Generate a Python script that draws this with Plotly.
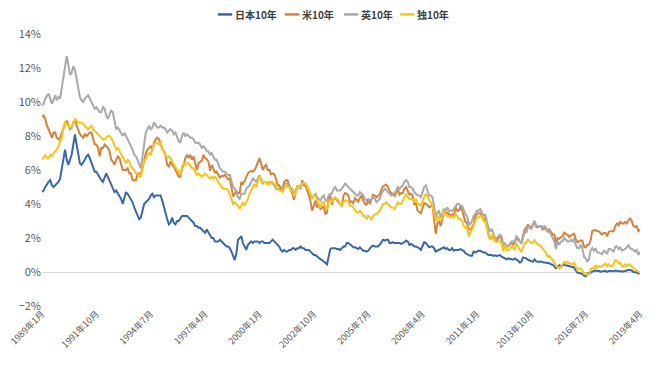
import plotly.graph_objects as go

years = list(range(1989, 2020))
months = [f"{y}年{m}月" for y in years for m in range(1, 13)][:364]
tick_labels = ["1989年1月", "1991年10月", "1994年7月", "1997年4月", "2000年1月", "2002年10月",
               "2005年7月", "2008年4月", "2011年1月", "2013年10月", "2016年7月", "2019年4月"]

jp = [
    4.7, 4.8, 5.0, 5.2, 5.3, 5.4, 5.1, 5.0, 5.1, 5.2, 5.3, 5.5,
    6.0, 6.6, 7.2, 6.6, 6.3, 6.6, 6.9, 7.5, 8.1, 7.5, 7.0, 6.4,
    6.3, 6.5, 6.6, 6.8, 6.9, 6.7, 6.4, 6.2, 5.9, 5.9, 5.7, 5.6,
    5.4, 5.3, 5.5, 5.8, 5.6, 5.4, 5.2, 5.0, 4.7, 4.8, 4.6, 4.5,
    4.3, 4.0, 4.3, 4.7, 4.6, 4.4, 4.3, 4.1, 3.8, 3.6, 3.3, 3.1,
    3.2, 3.7, 4.0, 4.1, 4.2, 4.3, 4.5, 4.6, 4.4, 4.5, 4.5, 4.5,
    4.5, 4.2, 3.8, 3.4, 3.1, 2.8, 2.9, 3.2, 2.9, 2.8, 3.0, 3.0,
    3.2, 3.3, 3.3, 3.3, 3.3, 3.2, 3.1, 3.0, 2.9, 2.7, 2.7, 2.6,
    2.6, 2.5, 2.4, 2.3, 2.5, 2.3, 2.1, 2.0, 2.0, 1.8, 1.8, 1.8,
    1.9, 1.8, 1.7, 1.6, 1.5, 1.5, 1.4, 1.2, 0.9, 0.7, 1.1, 1.9,
    2.0, 2.1, 1.7, 1.5, 1.3, 1.6, 1.7, 1.8, 1.7, 1.8, 1.8, 1.8,
    1.7, 1.8, 1.8, 1.7, 1.7, 1.7, 1.7, 1.8, 1.9, 1.8, 1.7, 1.6,
    1.5, 1.3, 1.2, 1.3, 1.2, 1.2, 1.3, 1.3, 1.4, 1.4, 1.3, 1.4,
    1.4, 1.5, 1.4, 1.4, 1.3, 1.3, 1.3, 1.2, 1.1, 1.0, 1.0, 0.9,
    0.8, 0.75, 0.7, 0.6, 0.5, 0.45, 0.9, 1.35, 1.4, 1.4, 1.4, 1.35,
    1.35, 1.3, 1.4, 1.5, 1.5, 1.7, 1.7, 1.6, 1.5, 1.45, 1.45, 1.4,
    1.35, 1.45, 1.35, 1.25, 1.25, 1.2, 1.25, 1.4, 1.5, 1.55, 1.5, 1.5,
    1.5, 1.6, 1.75, 1.9, 1.85, 1.9, 1.9, 1.7, 1.7, 1.75, 1.7, 1.7,
    1.7, 1.7, 1.65, 1.7, 1.75, 1.85, 1.8, 1.6, 1.65, 1.6, 1.5, 1.5,
    1.45, 1.4, 1.3, 1.55, 1.75, 1.7, 1.6, 1.45, 1.5, 1.5, 1.4, 1.2,
    1.25, 1.3, 1.35, 1.4, 1.45, 1.35, 1.4, 1.3, 1.3, 1.4, 1.25, 1.3,
    1.3, 1.3, 1.35, 1.3, 1.25, 1.1, 1.05, 1.0, 0.95, 0.95, 1.2, 1.15,
    1.2, 1.25, 1.25, 1.2, 1.15, 1.15, 1.05, 1.0, 1.0, 1.0, 0.95, 0.98,
    0.95, 0.97, 1.0, 0.9, 0.85, 0.84, 0.75, 0.8, 0.77, 0.78, 0.72, 0.79,
    0.75, 0.67, 0.56, 0.6, 0.86, 0.85, 0.8, 0.72, 0.68, 0.6, 0.6, 0.74,
    0.62, 0.6, 0.63, 0.62, 0.57, 0.56, 0.53, 0.5, 0.52, 0.45, 0.43, 0.33,
    0.22, 0.33, 0.4, 0.33, 0.38, 0.45, 0.4, 0.37, 0.33, 0.3, 0.3, 0.27,
    0.1, -0.05, -0.05, -0.1, -0.12, -0.22, -0.25, -0.07, -0.08, -0.05, 0.02, 0.05,
    0.08, 0.06, 0.07, 0.02, 0.04, 0.08, 0.07, 0.01, 0.06, 0.06, 0.04, 0.04,
    0.08, 0.05, 0.04, 0.05, 0.03, 0.03, 0.06, 0.1, 0.12, 0.12, 0.09, 0.0,
    0.0, -0.03, -0.09, -0.05,
]

us = [
    9.1, 9.2, 9.0, 8.6, 8.4, 8.1, 7.9, 8.2, 8.2, 7.9, 7.8, 7.9,
    8.2, 8.5, 8.7, 8.9, 8.6, 8.4, 8.5, 8.8, 8.9, 8.6, 8.3, 8.1,
    8.0, 7.9, 8.1, 8.0, 8.1, 8.2, 8.2, 7.8, 7.5, 7.5, 7.3, 6.8,
    7.3, 7.3, 7.5, 7.4, 7.3, 7.1, 6.6, 6.5, 6.3, 6.6, 6.8, 6.7,
    6.4, 6.0, 6.0, 6.0, 6.1, 5.8, 5.8, 5.4, 5.4, 5.4, 5.8, 5.8,
    5.8, 6.1, 6.6, 7.0, 7.2, 7.3, 7.4, 7.2, 7.6, 7.8, 7.9, 7.8,
    7.6, 7.2, 7.1, 6.9, 6.3, 6.2, 6.5, 6.3, 6.2, 6.0, 5.8, 5.6,
    5.6, 6.1, 6.3, 6.7, 6.9, 6.7, 6.9, 6.6, 6.8, 6.3, 6.0, 6.4,
    6.5, 6.55, 6.9, 6.7, 6.65, 6.5, 5.95, 6.3, 6.1, 5.85, 5.9, 5.75,
    5.55, 5.65, 5.65, 5.7, 5.55, 5.45, 5.5, 5.0, 4.45, 4.6, 4.75, 4.65,
    4.65, 5.3, 5.2, 5.35, 5.6, 5.8, 5.9, 5.95, 5.9, 6.0, 6.2, 6.45,
    6.7, 6.4, 6.0, 6.2, 6.3, 6.0, 6.0, 5.75, 5.8, 5.75, 5.5, 5.1,
    5.1, 4.9, 4.9, 5.3, 5.4, 5.4, 5.05, 4.85, 4.6, 4.25, 4.75, 5.05,
    5.05, 4.9, 5.4, 5.1, 5.05, 4.8, 4.5, 4.15, 3.6, 3.9, 4.2, 3.8,
    4.0, 3.7, 3.8, 3.85, 3.4, 3.5, 4.4, 4.45, 3.95, 4.3, 4.35, 4.25,
    4.15, 4.0, 3.85, 4.5, 4.65, 4.6, 4.5, 4.1, 4.15, 4.05, 4.35, 4.25,
    4.15, 4.35, 4.5, 4.2, 4.0, 3.95, 4.3, 4.0, 4.35, 4.55, 4.5, 4.4,
    4.5, 4.55, 4.85, 5.05, 5.1, 5.15, 5.0, 4.75, 4.65, 4.6, 4.45, 4.7,
    4.85, 4.55, 4.65, 4.65, 4.9, 5.0, 4.75, 4.55, 4.6, 4.5, 3.95, 4.05,
    3.6, 3.5, 3.45, 3.75, 4.05, 4.0, 3.95, 3.8, 3.85, 3.95, 2.9, 2.25,
    2.85, 3.0, 2.7, 3.15, 3.45, 3.5, 3.5, 3.4, 3.3, 3.4, 3.2, 3.85,
    3.6, 3.6, 3.85, 3.65, 3.3, 2.95, 2.9, 2.5, 2.5, 2.6, 2.8, 3.3,
    3.4, 3.45, 3.45, 3.3, 3.05, 3.15, 2.8, 2.2, 1.9, 2.1, 2.0, 1.9,
    1.8, 2.0, 2.2, 1.9, 1.55, 1.65, 1.5, 1.55, 1.65, 1.7, 1.6, 1.75,
    2.0, 1.9, 1.85, 1.7, 2.15, 2.5, 2.6, 2.8, 2.6, 2.55, 2.75, 3.0,
    2.65, 2.65, 2.7, 2.65, 2.5, 2.55, 2.55, 2.35, 2.5, 2.35, 2.2, 2.2,
    1.65, 2.0, 1.95, 2.05, 2.1, 2.35, 2.2, 2.2, 2.05, 2.15, 2.2, 2.25,
    1.95, 1.75, 1.8, 1.85, 1.85, 1.5, 1.45, 1.6, 1.6, 1.85, 2.4, 2.45,
    2.45, 2.4, 2.4, 2.3, 2.2, 2.3, 2.3, 2.1, 2.35, 2.4, 2.4, 2.4,
    2.7, 2.85, 2.75, 2.95, 2.85, 2.85, 2.95, 2.85, 3.05, 3.15, 3.0, 2.7,
    2.65, 2.7, 2.4, 2.5,
]

uk = [
    9.8, 9.9, 10.2, 10.4, 10.5, 10.2, 9.9, 10.1, 10.4, 10.1, 10.3, 10.2,
    10.8, 11.3, 12.0, 12.7, 12.2, 11.6, 11.7, 12.1, 11.9, 11.3, 10.9, 10.3,
    10.1, 10.0, 10.2, 10.3, 10.4, 10.2, 10.0, 9.7, 9.6, 9.7, 9.5, 9.4,
    9.4, 9.7, 9.6, 9.2, 9.0, 9.3, 9.5, 9.4, 8.9, 8.4, 8.5, 8.3,
    8.1, 8.0, 8.2, 8.0, 7.9, 7.7, 7.4, 7.2, 6.9, 6.8, 6.6, 6.3,
    6.1, 6.8, 7.6, 8.2, 8.4, 8.6, 8.4, 8.5, 8.8, 8.6, 8.5, 8.5,
    8.6, 8.5, 8.5, 8.4, 8.2, 8.3, 8.4, 8.3, 8.1, 8.2, 7.9, 7.7,
    7.6, 8.0, 8.2, 8.0, 8.1, 8.0, 7.9, 7.9, 7.8, 7.6, 7.6, 7.6,
    7.5, 7.3, 7.4, 7.3, 7.1, 7.1, 6.9, 7.0, 6.8, 6.6, 6.6, 6.3,
    6.1, 6.0, 5.9, 5.9, 5.8, 5.7, 5.7, 5.4, 5.0, 4.9, 4.6, 4.4,
    4.3, 4.6, 4.6, 4.6, 4.9, 5.0, 5.1, 5.3, 5.5, 5.4, 5.3, 5.5,
    5.7, 5.4, 5.2, 5.3, 5.3, 5.2, 5.3, 5.3, 5.2, 5.1, 4.9, 4.9,
    4.9, 4.8, 4.8, 5.0, 5.2, 5.2, 5.0, 4.9, 4.9, 4.6, 4.8, 5.0,
    5.0, 4.9, 5.3, 5.2, 5.2, 5.0, 4.8, 4.5, 4.3, 4.5, 4.6, 4.4,
    4.3, 4.2, 4.4, 4.5, 4.2, 4.2, 4.5, 4.6, 4.6, 4.9, 5.0, 4.8,
    4.8, 4.8, 4.9, 5.1, 5.2, 5.1, 5.0, 4.9, 4.8, 4.7, 4.6, 4.5,
    4.5, 4.7, 4.6, 4.5, 4.3, 4.2, 4.3, 4.2, 4.3, 4.4, 4.3, 4.1,
    4.2, 4.3, 4.6, 4.8, 4.9, 4.8, 4.7, 4.6, 4.5, 4.6, 4.6, 4.8,
    5.0, 4.9, 5.0, 5.1, 5.3, 5.4, 5.3, 5.0, 5.0, 4.9, 4.7, 4.6,
    4.5, 4.5, 4.4, 4.7, 5.0, 5.1, 4.8, 4.5, 4.5, 4.4, 3.9, 3.2,
    3.5, 3.6, 3.2, 3.5, 3.7, 3.6, 3.8, 3.6, 3.6, 3.6, 3.7, 3.9,
    4.0, 4.0, 3.9, 3.9, 3.6, 3.4, 3.3, 2.9, 2.8, 3.0, 3.3, 3.4,
    3.6, 3.6, 3.7, 3.5, 3.3, 3.4, 2.9, 2.6, 2.4, 2.5, 2.3, 2.0,
    2.0, 2.1, 2.2, 2.1, 1.6, 1.7, 1.5, 1.5, 1.7, 1.8, 1.8, 1.8,
    2.1, 2.0, 1.8, 1.7, 2.0, 2.4, 2.3, 2.7, 2.7, 2.6, 2.8, 3.0,
    2.7, 2.7, 2.7, 2.7, 2.6, 2.7, 2.6, 2.4, 2.4, 2.2, 2.0, 1.8,
    1.35, 1.8, 1.6, 1.8, 1.8, 2.0, 1.9, 1.8, 1.8, 1.9, 1.8, 1.95,
    1.6, 1.4, 1.4, 1.6, 1.4, 0.9, 0.8, 0.6, 0.75, 1.25, 1.4, 1.25,
    1.4, 1.15, 1.15, 1.1, 1.05, 1.25, 1.2, 1.05, 1.35, 1.35, 1.25, 1.2,
    1.5, 1.5, 1.35, 1.45, 1.25, 1.3, 1.35, 1.45, 1.6, 1.4, 1.35, 1.3,
    1.2, 1.3, 1.0, 1.2,
]

de = [
    6.6, 6.8, 6.9, 6.7, 6.7, 6.9, 6.8, 7.0, 7.1, 7.2, 7.4, 7.6,
    7.9, 8.5, 8.8, 8.7, 8.6, 8.5, 8.5, 8.8, 9.0, 8.9, 8.8, 8.8,
    8.8, 8.7, 8.6, 8.5, 8.4, 8.5, 8.6, 8.4, 8.3, 8.2, 8.1, 8.0,
    7.9, 7.8, 7.8, 7.9, 8.0, 8.0, 7.9, 7.7, 7.5, 7.2, 7.3, 7.1,
    7.0, 6.8, 6.5, 6.4, 6.6, 6.5, 6.2, 6.1, 6.0, 5.8, 5.8, 5.6,
    5.6, 6.1, 6.6, 6.6, 6.9, 7.0, 6.9, 7.2, 7.5, 7.6, 7.6, 7.5,
    7.6, 7.3, 7.0, 6.9, 6.7, 6.8, 6.7, 6.5, 6.3, 6.2, 6.0, 5.9,
    5.7, 6.2, 6.4, 6.3, 6.4, 6.4, 6.2, 6.1, 6.1, 5.9, 5.7, 5.8,
    5.7, 5.6, 5.7, 5.8, 5.7, 5.6, 5.5, 5.6, 5.5, 5.6, 5.5, 5.3,
    5.1, 5.0, 4.9, 4.9, 4.9, 4.8, 4.6, 4.3, 4.0, 4.1, 4.0, 3.9,
    3.7, 3.9, 4.1, 3.9, 4.1, 4.3, 4.6, 4.8, 5.0, 5.2, 5.0, 5.3,
    5.6, 5.5, 5.3, 5.3, 5.3, 5.1, 5.3, 5.2, 5.3, 5.2, 5.1, 4.9,
    4.8, 4.8, 4.7, 4.9, 5.1, 5.0, 5.0, 4.8, 4.8, 4.5, 4.6, 5.0,
    5.0, 5.0, 5.2, 5.2, 5.2, 5.0, 4.8, 4.6, 4.3, 4.5, 4.5, 4.2,
    4.0, 3.8, 4.1, 4.1, 3.8, 3.7, 4.1, 4.2, 4.1, 4.3, 4.4, 4.3,
    4.2, 4.0, 3.9, 4.1, 4.2, 4.2, 4.1, 3.9, 3.9, 3.8, 3.6, 3.5,
    3.5, 3.6, 3.5, 3.3, 3.3, 3.1, 3.3, 3.2, 3.1, 3.3, 3.4, 3.4,
    3.5, 3.6, 3.8, 4.0, 4.0, 4.1, 4.0, 3.9, 3.8, 3.8, 3.7, 3.9,
    4.1, 4.0, 4.0, 4.2, 4.4, 4.6, 4.4, 4.3, 4.3, 4.3, 4.1, 4.3,
    4.0, 4.0, 3.9, 4.2, 4.4, 4.6, 4.4, 4.2, 4.0, 3.9, 3.5, 3.0,
    3.3, 3.1, 3.0, 3.2, 3.6, 3.4, 3.3, 3.3, 3.2, 3.3, 3.2, 3.4,
    3.3, 3.1, 3.1, 3.0, 2.7, 2.6, 2.7, 2.1, 2.3, 2.5, 2.7, 3.0,
    3.2, 3.2, 3.3, 3.3, 3.0, 3.0, 2.5, 2.2, 1.9, 2.1, 2.3, 1.8,
    1.8, 1.8, 1.8, 1.7, 1.2, 1.6, 1.3, 1.3, 1.4, 1.5, 1.4, 1.3,
    1.7, 1.5, 1.3, 1.2, 1.5, 1.7, 1.7, 1.9, 1.8, 1.7, 1.7, 1.9,
    1.7, 1.6, 1.6, 1.5, 1.4, 1.25, 1.1, 0.9, 0.95, 0.85, 0.7, 0.55,
    0.35, 0.3, 0.2, 0.3, 0.5, 0.6, 0.5, 0.6, 0.5, 0.5, 0.45, 0.55,
    0.35, 0.1, 0.2, 0.2, 0.1, -0.1, -0.15, -0.1, -0.15, 0.15, 0.25, 0.2,
    0.4, 0.25, 0.35, 0.3, 0.35, 0.45, 0.5, 0.35, 0.45, 0.35, 0.35, 0.45,
    0.7, 0.65, 0.5, 0.55, 0.35, 0.3, 0.45, 0.35, 0.45, 0.4, 0.3, 0.25,
    0.15, 0.1, 0.0, -0.05,
]

series_names = ["日本10年", "米10年", "英10年", "独10年"]
series_colors = ["#3B67A6", "#D5823E", "#A9A9A9", "#F7C41A"]
series_values = [jp, us, uk, de]

font_family = "Noto Sans CJK JP, Noto Sans, sans-serif"

fig = go.Figure()
for name, color, vals in zip(series_names, series_colors, series_values):
    fig.add_trace(go.Scatter(
        x=months[:len(vals)], y=[v / 100 for v in vals], name=name, mode="lines",
        line=dict(color=color, width=2),
    ))

# compact legend (short line keys + bold labels), placed in paper coordinates
legend_line_x = [(0.294, 0.318), (0.406, 0.430), (0.505, 0.529), (0.599, 0.623)]
legend_text_x = [0.321, 0.433, 0.532, 0.626]
legend_y = 1.072
shapes = []
annotations = []
for (x0, x1), tx, name, color in zip(legend_line_x, legend_text_x, series_names, series_colors):
    shapes.append(dict(type="line", xref="paper", yref="paper", x0=x0, x1=x1,
                       y0=legend_y, y1=legend_y, line=dict(color=color, width=2.5)))
    annotations.append(dict(xref="paper", yref="paper", x=tx, y=legend_y, xanchor="left",
                            yanchor="middle", text=f"<b>{name}</b>", showarrow=False,
                            borderpad=0,
                            font=dict(family=font_family, size=10, color="#404040")))

fig.update_layout(
    width=660, height=371,
    margin=dict(l=34, r=28, t=26, b=73, autoexpand=False),
    paper_bgcolor="white", plot_bgcolor="white",
    font=dict(family=font_family, size=11, color="#595959"),
    showlegend=False,
    shapes=shapes,
    annotations=annotations,
    xaxis=dict(
        type="category", categoryorder="array", categoryarray=months,
        range=[0, len(months) - 1], automargin=False,
        tickmode="array", tickvals=tick_labels, ticktext=tick_labels,
        tickangle=-45, showgrid=False, showline=False, zeroline=False,
        ticks="", tickfont=dict(size=9, color="#595959"),
    ),
    yaxis=dict(
        range=[-0.02, 0.14], tickvals=[-0.02, 0, 0.02, 0.04, 0.06, 0.08, 0.10, 0.12, 0.14],
        tickformat=".0%", showgrid=False, showline=False, automargin=False,
        zeroline=True, zerolinecolor="#D9D9D9", zerolinewidth=1,
        ticks="", tickfont=dict(size=11, color="#595959"),
    ),
)

fig.write_html("out.html")
